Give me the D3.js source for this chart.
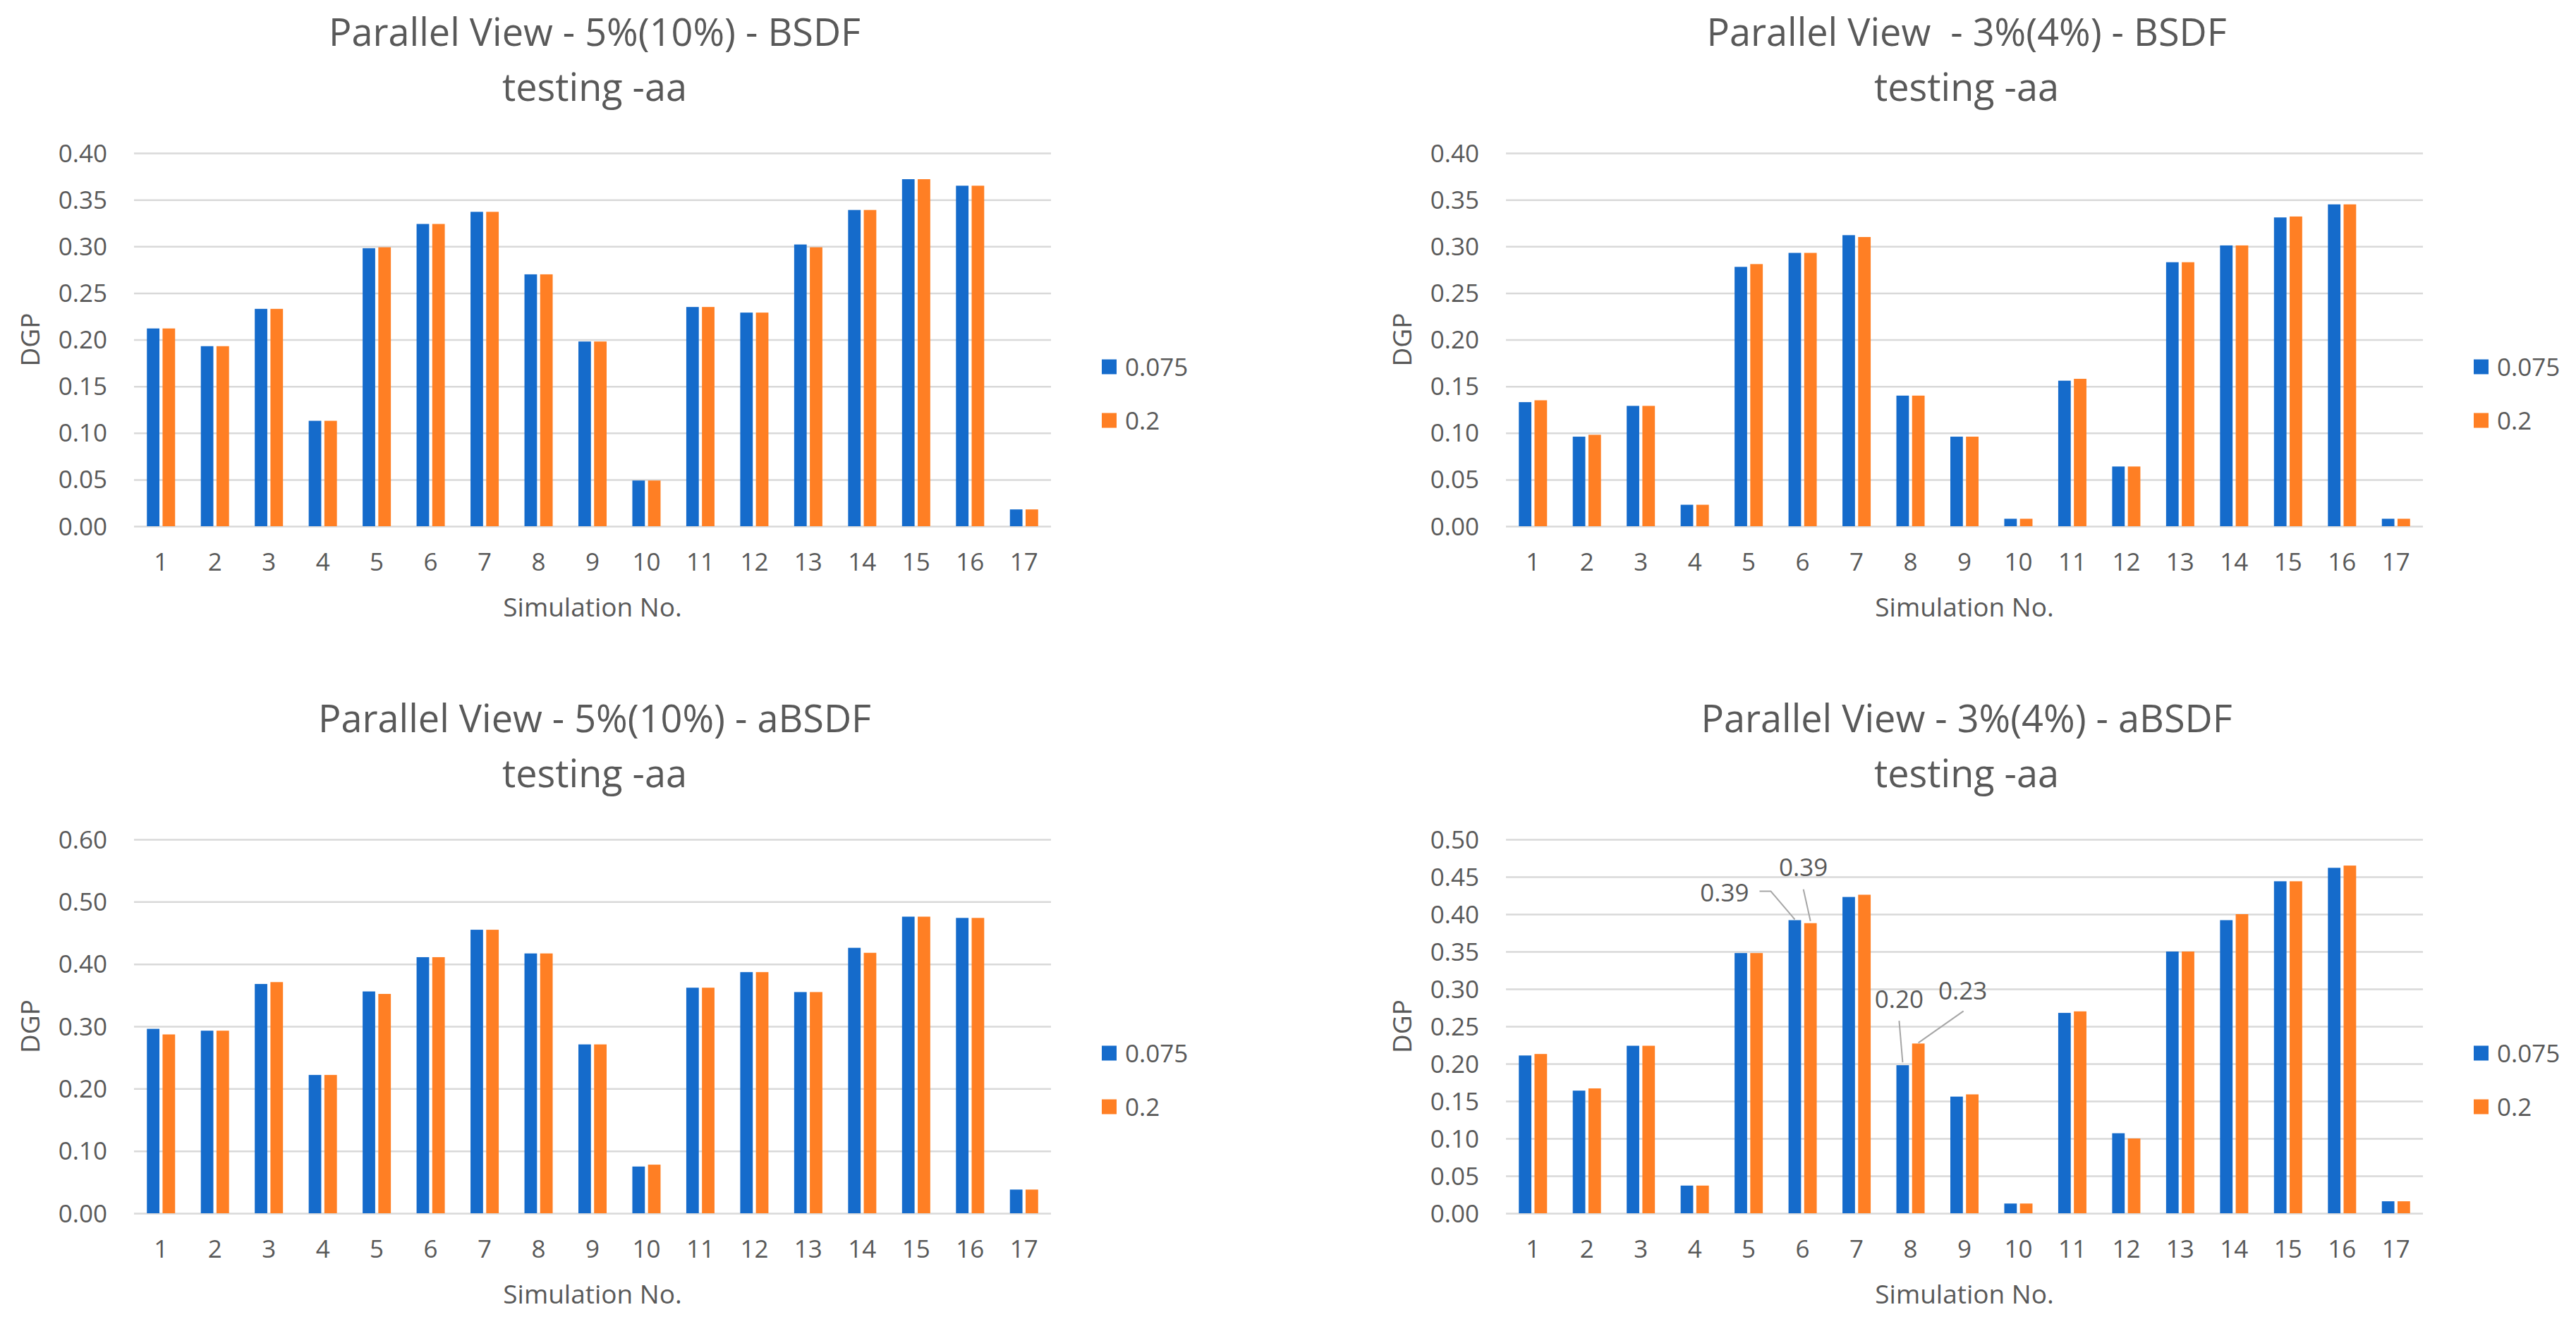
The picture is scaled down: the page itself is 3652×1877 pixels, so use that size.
<!DOCTYPE html>
<html>
<head>
<meta charset="utf-8">
<script src="https://cdn.jsdelivr.net/npm/d3@7"></script>
<style>
  body { margin: 0; background: #fff; }
  svg { display: block; font-family: "Open Sans", sans-serif; }
  .grid line { stroke: #d9d9d9; stroke-width: 2.5; }
  .grid path { display: none; }
  .tick-label { fill: #595959; font-size: 35px; }
</style>
</head>
<body>
<svg id="chart" width="3652" height="1877"></svg>
<script>
// categories and series
var simNos = ["1","2","3","4","5","6","7","8","9","10","11","12","13","14","15","16","17"];
var seriesNames = ["0.075", "0.2"];
var colors = ["#156bcb", "#ff7f24"];

// DGP values, one array per panel / series
var bsdf5_075 = [0.212,0.193,0.233,0.113,0.298,0.324,0.337,0.270,0.198,0.049,0.235,0.229,0.302,0.339,0.372,0.365,0.018];
var bsdf5_02  = [0.212,0.193,0.233,0.113,0.299,0.324,0.337,0.270,0.198,0.049,0.235,0.229,0.299,0.339,0.372,0.365,0.018];
var bsdf3_075 = [0.133,0.096,0.129,0.023,0.278,0.293,0.312,0.140,0.096,0.008,0.156,0.064,0.283,0.301,0.331,0.345,0.008];
var bsdf3_02  = [0.135,0.098,0.129,0.023,0.281,0.293,0.310,0.140,0.096,0.008,0.158,0.064,0.283,0.301,0.332,0.345,0.008];
var absdf5_075 = [0.296,0.293,0.368,0.222,0.356,0.411,0.455,0.417,0.271,0.075,0.362,0.387,0.355,0.426,0.476,0.474,0.038];
var absdf5_02  = [0.287,0.293,0.371,0.222,0.352,0.411,0.455,0.417,0.271,0.078,0.362,0.387,0.355,0.418,0.476,0.474,0.038];
var absdf3_075 = [0.211,0.164,0.224,0.037,0.348,0.392,0.423,0.198,0.156,0.013,0.268,0.107,0.350,0.392,0.444,0.462,0.016];
var absdf3_02  = [0.213,0.167,0.224,0.037,0.348,0.388,0.426,0.227,0.159,0.013,0.270,0.100,0.350,0.400,0.444,0.465,0.016];

// y axis ranges / tick steps
var yMaxes = [0.40, 0.40, 0.60, 0.50];
var yTickSteps = [0.05, 0.05, 0.10, 0.05];

var titles = [
  "Parallel View - 5%(10%) - BSDF",
  "Parallel View  - 3%(4%) - BSDF",
  "Parallel View - 5%(10%) - aBSDF",
  "Parallel View - 3%(4%) - aBSDF"
];
var subtitle = "testing -aa";

// panel layout (plot area of each chart)
var panels = [
  { x0: 190,  x1: 1490, y0: 217,  y1: 746,  data: [bsdf5_075, bsdf5_02] },
  { x0: 2135, x1: 3435, y0: 217,  y1: 746,  data: [bsdf3_075, bsdf3_02] },
  { x0: 190,  x1: 1490, y0: 1190, y1: 1720, data: [absdf5_075, absdf5_02] },
  { x0: 2135, x1: 3435, y0: 1190, y1: 1720, data: [absdf3_075, absdf3_02] }
];

// data labels with leader lines (only in last panel)
var callouts = [
  { panel: 3, cat: 5, s: 0, tx: -65, ty: -39, anchor: "end",    leader: [[-50,-41],[-34,-41],[0,-1]] },
  { panel: 3, cat: 5, s: 1, tx: -10, ty: -79, anchor: "middle", leader: [[-10,-48],[0,-3]] },
  { panel: 3, cat: 7, s: 0, tx: -5,  ty: -94, anchor: "middle", leader: [[-5,-63],[0,-4]] },
  { panel: 3, cat: 7, s: 1, tx: 63,  ty: -75, anchor: "middle", leader: [[64,-46],[0,-1]] }
];

var svg = d3.select("#chart");
svg.append("rect").attr("width", 3652).attr("height", 1877).attr("fill", "#fff");

var fmt = d3.format(".2f");

panels.forEach(function(p, pi) {
  var g = svg.append("g");

  var x = d3.scaleBand().domain(simNos).range([p.x0, p.x1]);
  var xs = d3.scaleBand().domain([0, 1]).range([-20, 20]).paddingInner(0.2);
  var y = d3.scaleLinear().domain([0, yMaxes[pi]]).range([p.y1, p.y0]);
  var ticks = d3.range(0, yMaxes[pi] + 1e-9, yTickSteps[pi]);

  // gridlines
  g.append("g")
    .attr("class", "grid")
    .attr("transform", "translate(" + p.x0 + ",0)")
    .call(d3.axisLeft(y).tickValues(ticks).tickSize(-(p.x1 - p.x0)).tickFormat(""));

  // y tick labels
  g.append("g").selectAll("text")
    .data(ticks)
    .join("text")
    .attr("class", "tick-label")
    .attr("x", p.x0 - 38)
    .attr("y", function(d) { return y(d); })
    .attr("dy", "0.36em")
    .attr("text-anchor", "end")
    .text(fmt);

  // x tick labels
  g.append("g").selectAll("text")
    .data(simNos)
    .join("text")
    .attr("class", "tick-label")
    .attr("x", function(d) { return x(d) + x.bandwidth() / 2; })
    .attr("y", p.y1 + 63)
    .attr("text-anchor", "middle")
    .text(function(d) { return d; });

  // bars
  p.data.forEach(function(vals, si) {
    g.append("g").selectAll("rect")
      .data(vals)
      .join("rect")
      .attr("x", function(d, i) { return x(simNos[i]) + x.bandwidth() / 2 + xs(si); })
      .attr("width", xs.bandwidth())
      .attr("y", function(d) { return y(d); })
      .attr("height", function(d) { return p.y1 - y(d); })
      .attr("fill", colors[si]);
  });

  // titles
  var cx = (p.x0 + p.x1) / 2 + 3;
  g.append("text")
    .attr("x", cx).attr("y", p.y0 - 152)
    .attr("text-anchor", "middle")
    .attr("fill", "#595959")
    .attr("font-size", 54)
    .style("white-space", "pre")
    .text(titles[pi]);
  g.append("text")
    .attr("x", cx).attr("y", p.y0 - 74)
    .attr("text-anchor", "middle")
    .attr("fill", "#595959")
    .attr("font-size", 54)
    .text(subtitle);

  // axis titles
  g.append("text")
    .attr("x", (p.x0 + p.x1) / 2)
    .attr("y", p.y1 + 128)
    .attr("text-anchor", "middle")
    .attr("fill", "#595959")
    .attr("font-size", 37)
    .text("Simulation No.");
  g.append("text")
    .attr("transform", "translate(" + (p.x0 - 134) + "," + ((p.y0 + p.y1) / 2) + ") rotate(-90)")
    .attr("text-anchor", "middle")
    .attr("fill", "#595959")
    .attr("font-size", 37)
    .text("DGP");

  // legend
  var lg = g.append("g").attr("transform", "translate(" + (p.x1 + 72) + "," + p.y0 + ")");
  seriesNames.forEach(function(name, si) {
    var cy = 303 + si * 76;
    lg.append("rect")
      .attr("x", 0).attr("y", cy - 10.5)
      .attr("width", 21).attr("height", 21)
      .attr("fill", colors[si]);
    lg.append("text")
      .attr("class", "tick-label")
      .attr("x", 33).attr("y", cy)
      .attr("dy", "0.36em")
      .text(name);
  });

  // callouts
  callouts.filter(function(c) { return c.panel === pi; }).forEach(function(c) {
    var v = p.data[c.s][c.cat];
    var bx = x(simNos[c.cat]) + x.bandwidth() / 2 + xs(c.s) + xs.bandwidth() / 2;
    var by = y(v);
    g.append("path")
      .attr("d", d3.line()(c.leader.map(function(pt) { return [bx + pt[0], by + pt[1]]; })))
      .attr("fill", "none")
      .attr("stroke", "#a6a6a6")
      .attr("stroke-width", 2);
    g.append("text")
      .attr("class", "tick-label")
      .attr("x", bx + c.tx).attr("y", by + c.ty)
      .attr("dy", "0.36em")
      .attr("text-anchor", c.anchor)
      .text(fmt(v));
  });
});
</script>
</body>
</html>
